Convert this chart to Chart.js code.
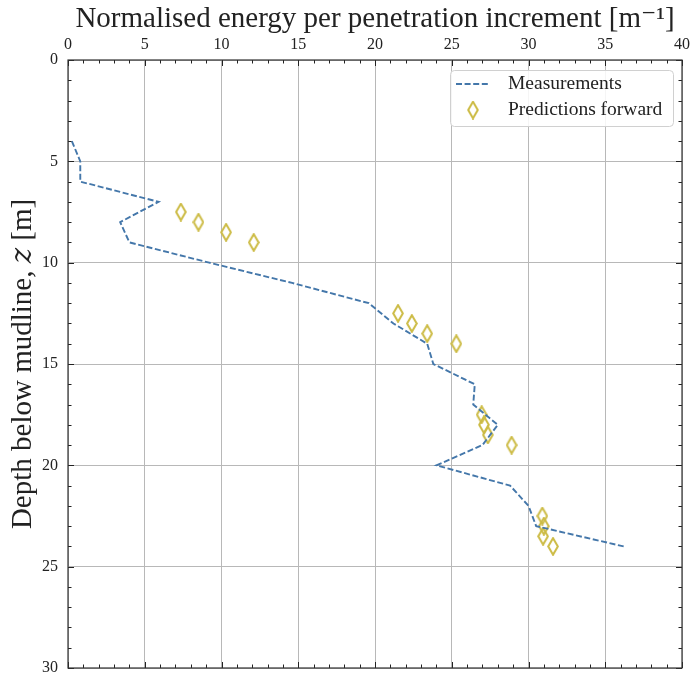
<!DOCTYPE html>
<html>
<head>
<meta charset="utf-8">
<script src="https://cdn.jsdelivr.net/npm/chart.js@4/dist/chart.umd.min.js"></script>
<style>
  html, body { margin: 0; padding: 0; background: #fff; }
  #wrap { width: 692px; height: 678px; }
</style>
</head>
<body>
<div id="wrap"><canvas id="chart" width="692" height="678"></canvas></div>
<script>
// measured profile: depth [m] and normalised energy [1/m]
const measDepth  = [4, 5, 6, 7, 8, 9, 10, 11, 12, 13, 14, 15, 16, 17, 18, 19, 20, 21, 22, 23, 24];
const measEnergy = [0.25, 0.8, 0.8, 5.9, 3.4, 4.0, 9.2, 14.6, 19.6, 21.2, 23.4, 23.8, 26.5, 26.4, 28.0, 27.0, 24.0, 28.8, 30.0, 30.5, 36.2];

// forward predictions
const predDepth  = [7.5, 8, 8.5, 9, 12.5, 13, 13.5, 14, 17.5, 18, 18.5, 19, 22.5, 23, 23.5, 24];
const predEnergy = [7.35, 8.5, 10.3, 12.1, 21.5, 22.4, 23.4, 25.3, 26.95, 27.1, 27.35, 28.9, 30.9, 31.0, 30.95, 31.6];

const xTicks = [0, 5, 10, 15, 20, 25, 30, 35, 40];
const yTicks = [0, 5, 10, 15, 20, 25, 30];

const BLUE = '#4477AA';
const GOLD = '#CCBB44';
const SERIF = '"Liberation Serif", "DejaVu Serif", serif';

// hollow thin diamond used as point style
function makeDiamond(w, h, color, lw) {
    const c = document.createElement('canvas');
    c.width = w; c.height = h;
    const g = c.getContext('2d');
    g.strokeStyle = color;
    g.lineWidth = lw;
    g.lineJoin = 'miter';
    g.beginPath();
    g.moveTo(w / 2, 1.2);
    g.lineTo(w - 1.2, h / 2);
    g.lineTo(w / 2, h - 1.2);
    g.lineTo(1.2, h / 2);
    g.closePath();
    g.stroke();
    return c;
}
const diamond = makeDiamond(12, 19, GOLD, 2);

// frame with inward major/minor ticks on all four sides
const frameTicks = {
    id: 'frameTicks',
    afterDatasetsDraw(chart) {
        const { ctx, chartArea: a, scales } = chart;
        const xs = scales.x, ys = scales.y;
        ctx.save();
        ctx.strokeStyle = '#222';
        ctx.lineWidth = 1;
        const line = (x1, y1, x2, y2) => { ctx.beginPath(); ctx.moveTo(x1, y1); ctx.lineTo(x2, y2); ctx.stroke(); };
        for (let v = 0; v <= 40; v++) {
            const px = Math.round(xs.getPixelForValue(v)) + 0.5;
            const len = v % 5 === 0 ? 6 : 3.5;
            line(px, a.top, px, a.top + len);
            line(px, a.bottom, px, a.bottom - len);
        }
        for (let v = 0; v <= 30; v++) {
            const py = Math.round(ys.getPixelForValue(v)) + 0.5;
            const len = v % 5 === 0 ? 6 : 3.5;
            line(a.left, py, a.left + len, py);
            line(a.right, py, a.right - len, py);
        }
        ctx.strokeStyle = '#333';
        ctx.lineWidth = 1.2;
        ctx.strokeRect(a.left, a.top, a.right - a.left, a.bottom - a.top);
        ctx.restore();
    }
};

// legend box in the top right corner of the plot area
const boxLegend = {
    id: 'boxLegend',
    afterDraw(chart) {
        const { ctx, chartArea: a } = chart;
        const ds = chart.data.datasets;
        const w = 223, h = 56;
        const x = a.right - 9 - w, y = a.top + 10;
        ctx.save();
        ctx.fillStyle = 'rgba(255,255,255,0.85)';
        ctx.strokeStyle = '#d0d0d0';
        ctx.lineWidth = 1;
        ctx.beginPath();
        ctx.roundRect(x + 0.5, y + 0.5, w, h, 4);
        ctx.fill();
        ctx.stroke();

        ctx.strokeStyle = BLUE;
        ctx.lineWidth = 1.9;
        ctx.setLineDash([6, 2.6]);
        ctx.beginPath();
        ctx.moveTo(x + 6, y + 14);
        ctx.lineTo(x + 40, y + 14);
        ctx.stroke();
        ctx.setLineDash([]);
        ctx.drawImage(diamond, x + 23 - 6, y + 40 - 9.5);

        ctx.fillStyle = '#222';
        ctx.font = '19.5px ' + SERIF;
        ctx.textBaseline = 'middle';
        ctx.fillText(ds[0].label, x + 58, y + 14);
        ctx.fillText(ds[1].label, x + 58, y + 40);
        ctx.restore();
    }
};

const ctx = document.getElementById('chart');
new Chart(ctx, {
    type: 'scatter',
    data: {
        datasets: [
            {
                label: 'Measurements',
                data: measDepth.map((d, i) => ({ x: measEnergy[i], y: d })),
                showLine: true,
                borderColor: BLUE,
                borderWidth: 1.9,
                borderDash: [6, 2.6],
                pointRadius: 0,
                fill: false,
                tension: 0
            },
            {
                label: 'Predictions forward',
                data: predDepth.map((d, i) => ({ x: predEnergy[i], y: d })),
                showLine: false,
                pointStyle: diamond,
                pointRadius: 8,
                borderColor: GOLD
            }
        ]
    },
    options: {
        responsive: false,
        animation: false,
        layout: { padding: { left: 0, top: 0, right: 10, bottom: 10 } },
        plugins: { legend: { display: false }, tooltip: { enabled: false } },
        scales: {
            x: {
                type: 'linear',
                position: 'top',
                min: 0, max: 40,
                afterBuildTicks: s => { s.ticks = xTicks.map(v => ({ value: v })); },
                afterFit: s => { s.height = 60; s.paddingLeft = 0; s.paddingRight = 0; },
                grid: { color: '#b8b8b8', lineWidth: 1, drawTicks: false },
                border: { display: false },
                ticks: { color: '#222', font: { family: SERIF, size: 16 }, padding: 6, maxRotation: 0 },
                title: {
                    display: true,
                    text: 'Normalised energy per penetration increment [m\u207B\u00B9]',
                    color: '#222',
                    font: { family: SERIF, size: 29 },
                    padding: { top: 2, bottom: 0 }
                }
            },
            y: {
                type: 'linear',
                reverse: true,
                min: 0, max: 30,
                afterBuildTicks: s => { s.ticks = yTicks.map(v => ({ value: v })); },
                afterFit: s => { s.width = 68; s.paddingTop = 0; s.paddingBottom = 0; },
                grid: { color: '#b8b8b8', lineWidth: 1, drawTicks: false },
                border: { display: false },
                ticks: { color: '#222', font: { family: SERIF, size: 16 }, padding: 10 },
                title: {
                    display: true,
                    text: 'Depth below mudline, \uD835\uDC67 [m]',
                    color: '#222',
                    font: { family: SERIF, size: 29 },
                    padding: { top: 6, bottom: 0 }
                }
            }
        }
    },
    plugins: [frameTicks, boxLegend]
});
</script>
</body>
</html>
